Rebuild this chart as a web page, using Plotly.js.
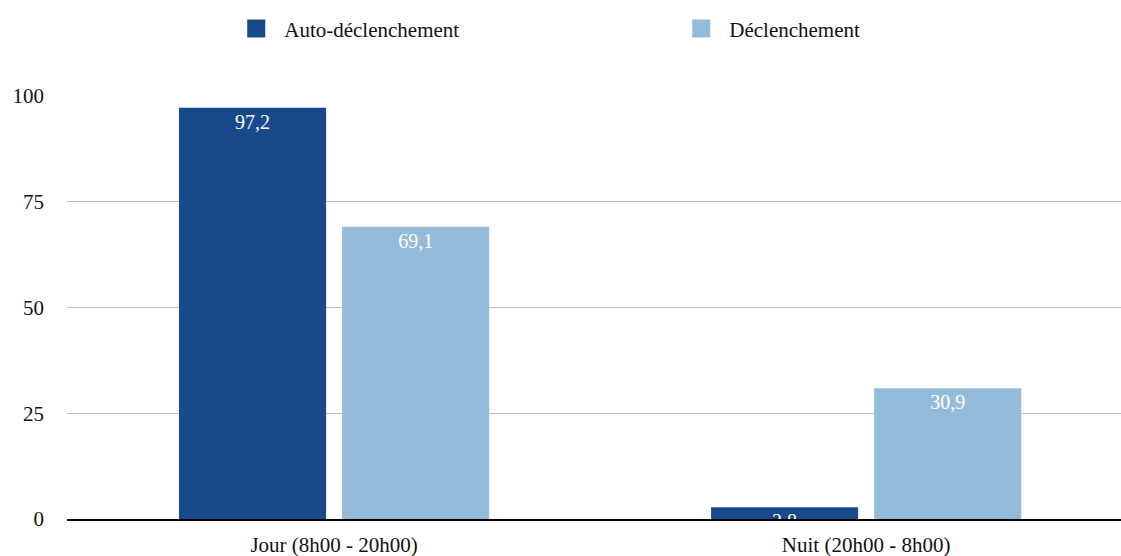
<!DOCTYPE html>
<html>
<head>
<meta charset="utf-8">
<script src="https://cdn.plot.ly/plotly-3.0.1.min.js"></script>
<style>
html,body{margin:0;padding:0;background:#fff}
#chart{width:1121px;height:556px}
</style>
</head>
<body>
<div id="chart"></div>
<script>
var categories = ["Jour (8h00 - 20h00)", "Nuit (20h00 - 8h00)"];
var autoDeclenchement = [97.2, 2.8];
var declenchement = [69.1, 30.9];
var seriesNames = ["Auto-déclenchement", "Déclenchement"];
var yTicks = [0, 25, 50, 75, 100];

var darkBlue = "#184a8b";
var lightBlue = "#95bbdb";
var serif = "Times New Roman, serif";

function barTrace(name, values, color) {
  return {
    type: "bar", name: name, x: categories, y: values,
    marker: {color: color},
    texttemplate: "%{y:.1f}",
    textposition: "inside",
    insidetextanchor: "end",
    constraintext: "none",
    textfont: {family: serif, size: 20, color: "#ffffff"},
    cliponaxis: true,
    showlegend: false,
    hoverinfo: "skip"
  };
}
function legendTrace(name, color) {
  return {
    type: "scatter", mode: "markers", name: name, x: [null], y: [null],
    marker: {symbol: "square", size: 16, color: color, line: {color: color, width: 2}},
    showlegend: true
  };
}

var data = [
  barTrace(seriesNames[0], autoDeclenchement, darkBlue),
  barTrace(seriesNames[1], declenchement, lightBlue),
  legendTrace(seriesNames[0], darkBlue),
  legendTrace(seriesNames[1], lightBlue)
];

var layout = {
  width: 1121, height: 556,
  margin: {l: 67, r: 0, t: 96, b: 37, pad: 0},
  paper_bgcolor: "#ffffff", plot_bgcolor: "#ffffff",
  separators: ", ",
  barmode: "group",
  bargap: 0.387,
  bargroupgap: 0.098,
  font: {family: serif, size: 21, color: "#111111"},
  xaxis: {
    type: "category",
    range: [-0.502, 1.479],
    showgrid: false, zeroline: false,
    showline: true, linecolor: "#000000", linewidth: 1.5,
    ticks: "", ticklabelstandoff: 6,
    tickfont: {family: serif, size: 21, color: "#111111"},
    fixedrange: true
  },
  yaxis: {
    range: [0, 100],
    tickvals: yTicks,
    showgrid: true, gridcolor: "#bdbdbd", gridwidth: 1,
    zeroline: false, showline: false,
    ticks: "", ticklabelstandoff: 22,
    tickfont: {family: serif, size: 21, color: "#111111"},
    fixedrange: true
  },
  legend: {
    orientation: "h",
    xref: "container", yref: "container",
    x: 0.2036, y: 0.985, xanchor: "left", yanchor: "top",
    itemwidth: 46,
    entrywidth: 384, entrywidthmode: "pixels",
    font: {family: serif, size: 21, color: "#111111"},
    bgcolor: "rgba(0,0,0,0)"
  },
  showlegend: true
};

Plotly.newPlot("chart", data, layout, {displayModeBar: false, staticPlot: true});
</script>
</body>
</html>
